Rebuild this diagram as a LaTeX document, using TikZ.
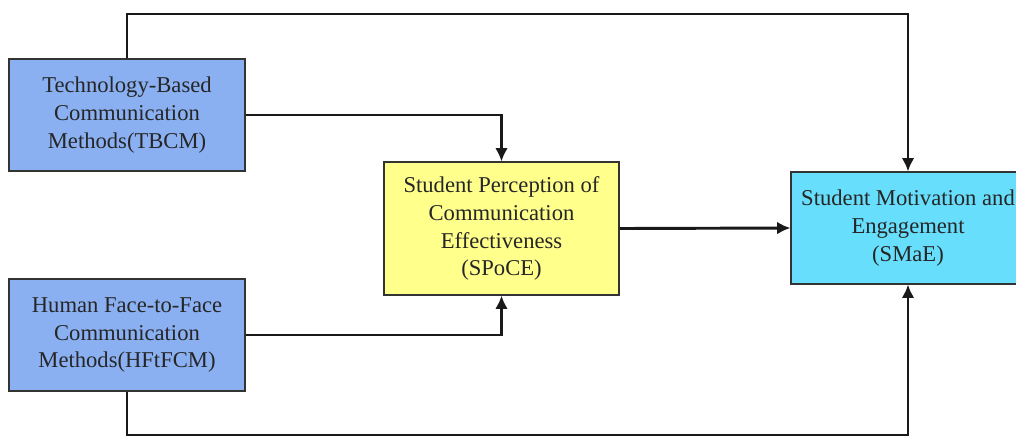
\documentclass[tikz,border=0pt]{standalone}
\usepackage{fontspec}
\setmainfont{Liberation Serif}
\usetikzlibrary{arrows.meta,positioning}
\usepackage{xcolor}
\definecolor{methodColor}{RGB}{138,176,242}
\definecolor{perceptColor}{RGB}{255,255,140}
\definecolor{outcomeColor}{RGB}{102,222,252}
\definecolor{arrowColor}{RGB}{25,25,25}
\newcommand{\diagfont}{\fontsize{19.3}{23.8}\selectfont}

\begin{document}
\begin{tikzpicture}[
        x=0.03cm, y=-0.03cm,
        box/.style={draw=black!80, line width=0.9pt, align=center, font=\diagfont, text=black!85, inner sep=2pt},
        method/.style={box, fill=methodColor, minimum width=7.08cm, minimum height=3.36cm},
        percept/.style={box, fill=perceptColor, minimum width=7.05cm, minimum height=3.99cm},
        outcome/.style={box, fill=outcomeColor, minimum width=7.02cm, minimum height=3.36cm},
        arr/.style={-{Latex[length=4mm,width=3.8mm]}, line width=2.5pt, arrowColor}
      ]
      \useasboundingbox (0,0) rectangle (1016,438);
      \node[method] (tbcm) at (127,115) {Technology-Based \\ Communication \\ Methods(TBCM)};
      \node[method] (hftfcm) at (127,335) {Human Face-to-Face \\ Communication \\ Methods(HFtFCM)};
      \node[percept] (spoce) at (501.5,228.5) {Student Perception of \\ Communication \\ Effectiveness \\ (SPoCE)};
      \node[outcome] (smae) at (908,228) {Student Motivation and \\ Engagement \\ (SMaE)};
      \coordinate (top) at (500,14);
      \coordinate (bottom) at (500,435);

      \draw[arr] (tbcm.north) |- (top) -| (smae.north);
      \draw[arr] (tbcm.east) -| (spoce.north);
      \draw[arr] (hftfcm.east) -| (spoce.south);
      \draw[arr] (spoce.east) -- (smae.west);
      \draw[arr] (hftfcm.south) |- (bottom) -| (smae.south);
    \end{tikzpicture}
\end{document}
